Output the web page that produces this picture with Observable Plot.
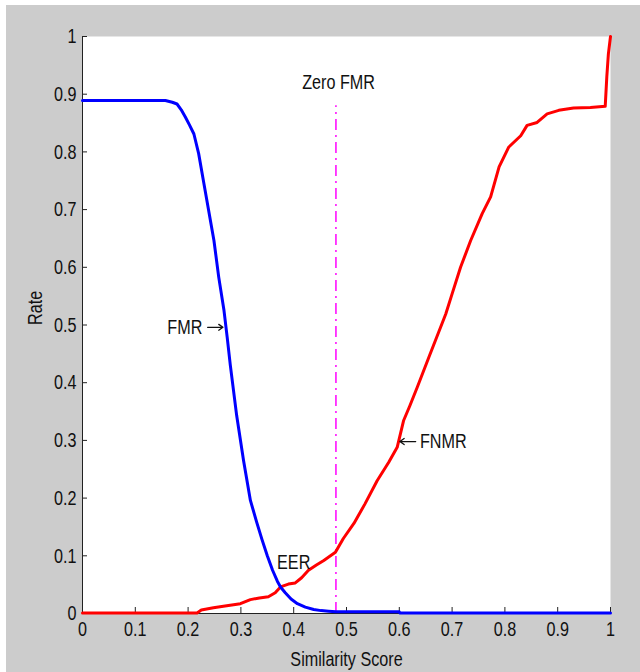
<!DOCTYPE html>
<html><head><meta charset="utf-8">
<script src="https://cdn.jsdelivr.net/npm/d3@7"></script>
<script src="https://cdn.jsdelivr.net/npm/@observablehq/plot@0.6"></script>
<style>
html,body{margin:0;padding:0;background:#fff;width:640px;height:672px;overflow:hidden;}
#wrap{position:absolute;left:6px;top:5px;width:634px;height:667px;background:#cccccc;}
svg{font-family:"Liberation Sans",Arial,sans-serif;}
</style></head>
<body><div id="wrap"></div>
<script>
const xTicks = [0,0.1,0.2,0.3,0.4,0.5,0.6,0.7,0.8,0.9,1];
const yTicks = [0,0.1,0.2,0.3,0.4,0.5,0.6,0.7,0.8,0.9,1];

const fmrX = [0,0.157,0.170,0.179,0.187,0.195,0.203,0.211,0.220,0.230,0.239,0.249,0.258,0.268,0.274,0.280,0.292,0.305,0.318,0.330,0.340,0.350,0.360,0.369,0.375,0.384,0.395,0.407,0.422,0.438,0.452,0.466,0.48,0.52,0.6,0.601,1];
const fmrY = [0.889,0.889,0.886,0.883,0.873,0.860,0.846,0.831,0.797,0.745,0.698,0.646,0.583,0.525,0.479,0.430,0.343,0.265,0.196,0.158,0.128,0.100,0.075,0.056,0.046,0.036,0.025,0.017,0.011,0.007,0.005,0.004,0.003,0.003,0.003,0.001,0.001];

const fnmrX = [0,0.217,0.225,0.248,0.270,0.299,0.318,0.335,0.352,0.365,0.375,0.390,0.403,0.415,0.428,0.443,0.457,0.479,0.494,0.514,0.535,0.558,0.580,0.596,0.608,0.620,0.634,0.656,0.688,0.700,0.716,0.735,0.757,0.773,0.789,0.807,0.830,0.842,0.861,0.880,0.902,0.930,0.962,0.990,0.993,0.996,1.0];
const fnmrY = [0.001,0.001,0.006,0.010,0.013,0.017,0.024,0.027,0.029,0.036,0.046,0.051,0.053,0.062,0.075,0.084,0.092,0.106,0.130,0.156,0.190,0.230,0.262,0.288,0.334,0.360,0.392,0.444,0.519,0.554,0.600,0.646,0.693,0.722,0.774,0.808,0.828,0.846,0.851,0.866,0.872,0.876,0.877,0.879,0.930,0.970,1.0];

const zeroFmrX = [0.48];
const zeroFmrTop = [0.88];

// annotation labels
const fmrLabel = {t:"FMR", x:0.227, y:0.496};
const fnmrLabel = {t:"FNMR", x:0.639, y:0.298};
const centerLabels = [{t:"EER", x:0.400, y:0.088},{t:"Zero FMR", x:0.485, y:0.920}];
const arrowX1 = [0.237, 0.631];
const arrowX2 = [0.266, 0.601];
const arrowY = [0.496, 0.298];

const fmr = fmrX.map((x,i)=>({x,y:fmrY[i]}));
const fnmr = fnmrX.map((x,i)=>({x,y:fnmrY[i]}));
const arrows = arrowX1.map((x1,i)=>({x1,x2:arrowX2[i],y:arrowY[i]}));
const ink = "#111";
const fs = 21;

const chart = Plot.plot({
  width:634, height:667,
  marginLeft:76, marginRight:30, marginTop:31, marginBottom:59,
  style:{background:"transparent", fontSize:fs+"px", color:ink},
  x:{domain:[0,1]}, y:{domain:[0,1]},
  marks:[
    Plot.frame({fill:"white", stroke:null}),
    Plot.axisX({ticks:xTicks, tickSize:0, tickPadding:8, tickFormat:d=>String(d), fontSize:fs, label:null}),
    Plot.axisX({ticks:xTicks, tickSize:-6, text:null, label:null, stroke:"#222"}),
    Plot.axisY({ticks:yTicks, tickSize:0, tickPadding:6, tickFormat:d=>String(d), fontSize:fs, label:null}),
    Plot.axisY({ticks:yTicks, tickSize:-5, text:null, label:null, stroke:"#222"}),
    Plot.ruleY([0],{stroke:"#222"}),
    Plot.ruleX([0],{stroke:"#222"}),
    Plot.ruleX(zeroFmrX,{x:d=>d, y1:0, y2:zeroFmrTop[0], stroke:"#ff00ff", strokeWidth:1.5, strokeDasharray:"11,5,2,5"}),
    Plot.line(fnmr,{x:"x",y:"y",stroke:"#ff0000",strokeWidth:3}),
    Plot.line(fmr,{x:"x",y:"y",stroke:"#0000ff",strokeWidth:3}),
    Plot.arrow(arrows,{x1:"x1",x2:"x2",y1:"y",y2:"y",stroke:ink,strokeWidth:1.3,headLength:8,headAngle:70}),
    Plot.text([fmrLabel],{x:"x",y:"y",text:"t",textAnchor:"end",fontSize:fs,fill:ink}),
    Plot.text([fnmrLabel],{x:"x",y:"y",text:"t",textAnchor:"start",fontSize:fs,fill:ink}),
    Plot.text(centerLabels,{x:"x",y:"y",text:"t",fontSize:fs,fill:ink}),
    Plot.text(["Similarity Score"],{frameAnchor:"bottom",dy:52,text:d=>d,fontSize:fs,fill:ink}),
    Plot.text(["Rate"],{frameAnchor:"left",dx:-47,rotate:-90,text:d=>d,fontSize:fs,fill:ink})
  ]
});
document.getElementById("wrap").appendChild(chart);
// condense text horizontally (MATLAB-style narrow glyphs)
d3.select(chart).selectAll("text").each(function(){
  const t = this.getAttribute("transform") || "";
  this.setAttribute("transform", (t + " scale(0.77,1)").trim());
});
</script></body></html>
